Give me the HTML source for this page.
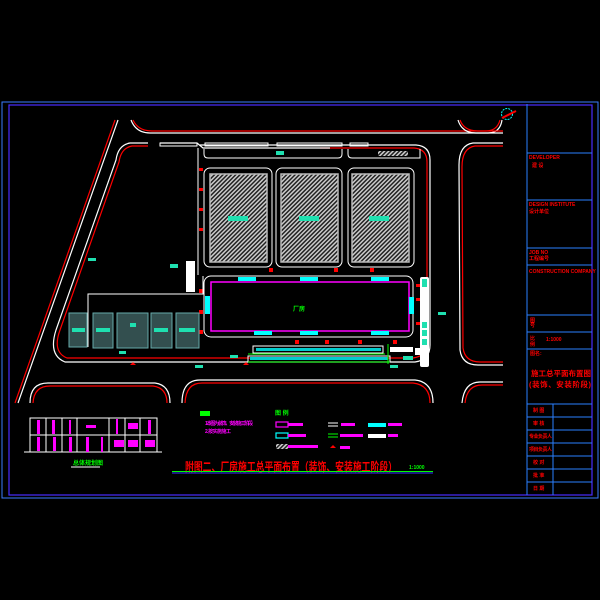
<!DOCTYPE html>
<html><head><meta charset="utf-8"><style>
html,body{margin:0;padding:0;background:#000;width:600px;height:600px;overflow:hidden}
svg{display:block}
text{font-family:"Liberation Sans","Noto Sans CJK SC",sans-serif;font-weight:bold}
</style></head><body>
<svg width="600" height="600" viewBox="0 0 600 600" xmlns="http://www.w3.org/2000/svg">
<defs>
<pattern id="h" width="3" height="3" patternUnits="userSpaceOnUse" patternTransform="rotate(45)">
<rect width="3" height="3" fill="#222"/><rect width="1.5" height="3" fill="#ccc"/></pattern>
</defs>
<rect width="600" height="600" fill="#000"/>
<rect x="2" y="102" width="596" height="396" fill="none" stroke="#3a7bff" stroke-width="1"/>
<rect x="9" y="105" width="583" height="390" fill="none" stroke="#4a2cff" stroke-width="1.2"/>
<!-- title block -->
<g stroke="#2a7fff" stroke-width="1" fill="none">
<line x1="527" y1="104" x2="527" y2="495"/>
<line x1="527" y1="153" x2="592" y2="153"/><line x1="527" y1="200" x2="592" y2="200"/>
<line x1="527" y1="248" x2="592" y2="248"/><line x1="527" y1="265" x2="592" y2="265"/>
<line x1="527" y1="315" x2="592" y2="315"/><line x1="527" y1="332" x2="592" y2="332"/>
<line x1="527" y1="349" x2="592" y2="349"/><line x1="527" y1="404" x2="592" y2="404"/>
<line x1="527" y1="417" x2="592" y2="417"/><line x1="527" y1="430" x2="592" y2="430"/>
<line x1="527" y1="443" x2="592" y2="443"/><line x1="527" y1="456" x2="592" y2="456"/>
<line x1="527" y1="469" x2="592" y2="469"/><line x1="527" y1="482" x2="592" y2="482"/>
<line x1="553" y1="404" x2="553" y2="495"/>
</g>
<g fill="#f00" font-size="5">
<text x="529" y="159">DEVELOPER</text><text x="532" y="167">建 设</text>
<text x="529" y="206">DESIGN INSTITUTE</text><text x="529" y="213">设计单位</text>
<text x="529" y="254">JOB NO</text><text x="529" y="260">工程编号</text>
<text x="529" y="273">CONSTRUCTION COMPANY</text>
<text x="530" y="322">图</text><text x="530" y="327">号</text>
<text x="530" y="340">比</text><text x="546" y="341">1:1000</text><text x="530" y="346">例</text>
<text x="530" y="355">图名:</text>
<text x="531" y="376" font-size="7.5" textLength="60">施工总平面布置图</text>
<text x="529" y="387" font-size="7.5" textLength="62">(装饰、安装阶段)</text>
<text x="533" y="412">制 图</text><text x="533" y="425">审 核</text>
<text x="529" y="438" textLength="23">专业负责人</text><text x="529" y="451" textLength="23">项目负责人</text>
<text x="533" y="464">校 对</text><text x="533" y="477">批 准</text><text x="533" y="490">日 期</text>
</g>
<!-- north -->
<circle cx="507" cy="114" r="5.5" fill="none" stroke="#0ff" stroke-width="1" stroke-dasharray="2,1"/>
<line x1="502" y1="118" x2="516" y2="111" stroke="#f00" stroke-width="2"/>
<!-- roads -->
<g fill="none" stroke-width="1.2">
<path d="M131 120 Q136 133 150 133 L488 133 Q500 133 502 120" stroke="#fff"/>
<path d="M133 120 Q138 131 152 131 L486 131 Q497 131 500 120" stroke="#f00"/>
<path d="M458 120 Q462 133 476 133 L503 133" stroke="#fff"/>
<path d="M460 120 Q464 131 478 131 L503 131" stroke="#f00"/>
<path d="M118 120 L18 403" stroke="#fff"/><path d="M115 120 L15 403" stroke="#f00"/>
<path d="M148 143 L130 143 Q118 145 116 160 L56 330 Q48 355 65 362 L415 362 Q430 360 430 345 L430 160 Q430 146 416 145 L200 145" stroke="#fff"/>
<path d="M148 146 L132 146 Q121 148 119 162 L60 330 Q52 352 67 358 L413 358 Q427 356 427 343 L427 162 Q427 149 414 148 L320 148" stroke="#f00"/>
<path d="M503 143 L473 143 Q459 145 459 165 L460 350 Q462 365 478 365 L503 365" stroke="#fff"/>
<path d="M503 146 L475 146 Q462 148 462 167 L463 348 Q465 362 480 362 L503 362" stroke="#f00"/>
<path d="M30 403 Q30 383 48 383 L155 383 Q170 385 170 403" stroke="#fff"/>
<path d="M33 403 Q34 386 50 386 L153 386 Q167 388 167 403" stroke="#f00"/>
<path d="M182 403 Q182 380 200 380 L415 380 Q433 382 433 403" stroke="#fff"/>
<path d="M185 403 Q186 383 202 383 L413 383 Q430 385 430 403" stroke="#f00"/>
<path d="M462 403 Q464 382 480 382 L503 382" stroke="#fff"/>
<path d="M465 403 Q467 385 482 385 L503 385" stroke="#f00"/>
<path d="M160 143 L197 143 L203 148 L330 148" stroke="#fff"/>
</g>
<!-- top small strips -->
<g fill="none" stroke="#fff" stroke-width="1">
<rect x="160" y="143" width="37" height="3"/><rect x="205" y="143" width="63" height="3"/>
<rect x="277" y="143" width="65" height="3"/><rect x="350" y="143" width="18" height="3"/>
<path d="M204 149 L204 154 Q204 158 208 158 L338 158 Q342 158 342 154 L342 149"/>
<path d="M348 149 L348 154 Q348 158 352 158 L420 158 L420 149"/>
<line x1="198" y1="148" x2="198" y2="275"/>
</g>
<rect x="378" y="151" width="30" height="5" fill="url(#h)"/>
<!-- warehouses -->
<g fill="none" stroke="#fff" stroke-width="1">
<rect x="204" y="168" width="68" height="99" rx="6"/><rect x="276" y="168" width="66" height="99" rx="6"/><rect x="348" y="168" width="66" height="99" rx="6"/>
</g>
<rect x="210" y="174" width="57" height="88" fill="url(#h)" stroke="#bbb" stroke-width="1.5"/>
<rect x="281" y="174" width="57" height="88" fill="url(#h)" stroke="#bbb" stroke-width="1.5"/>
<rect x="352" y="174" width="57" height="88" fill="url(#h)" stroke="#bbb" stroke-width="1.5"/>
<g fill="#1fe0b0"><rect x="228" y="216" width="20" height="5"/><rect x="299" y="216" width="20" height="5"/><rect x="369" y="216" width="20" height="5"/>
<rect x="276" y="151" width="8" height="4"/><rect x="170" y="264" width="8" height="4"/><rect x="88" y="258" width="8" height="3"/></g>
<rect x="186" y="261" width="9" height="31" fill="#fff"/>
<!-- red markers -->
<g fill="#f00"><rect x="199" y="168" width="4" height="3"/><rect x="199" y="188" width="4" height="3"/><rect x="199" y="208" width="4" height="3"/><rect x="199" y="228" width="4" height="3"/>
<rect x="269" y="268" width="4" height="4"/><rect x="334" y="268" width="4" height="4"/><rect x="370" y="268" width="4" height="4"/>
<rect x="199" y="289" width="4" height="4"/><rect x="199" y="310" width="4" height="4"/><rect x="199" y="330" width="4" height="4"/>
<rect x="295" y="340" width="4" height="4"/><rect x="325" y="340" width="4" height="4"/><rect x="358" y="340" width="4" height="4"/><rect x="393" y="340" width="4" height="4"/>
<rect x="416" y="284" width="4" height="3"/><rect x="416" y="298" width="4" height="3"/><rect x="416" y="322" width="4" height="3"/>
<path d="M130 365 l3 -3 l3 3z M243 365 l3 -3 l3 3z"/></g>
<!-- main factory -->
<rect x="204" y="276" width="209" height="61" rx="7" fill="none" stroke="#fff"/>
<rect x="211" y="282" width="198" height="49" fill="none" stroke="#f0f" stroke-width="1.5"/>
<g fill="#0ff"><rect x="238" y="277" width="18" height="4"/><rect x="300" y="277" width="18" height="4"/><rect x="371" y="277" width="18" height="4"/>
<rect x="254" y="331" width="18" height="4"/><rect x="300" y="331" width="18" height="4"/><rect x="371" y="331" width="18" height="4"/>
<rect x="205" y="296" width="5" height="18"/><rect x="409" y="297" width="5" height="17"/></g>
<text x="293" y="311" fill="#0f0" font-size="6">厂房</text>
<!-- right strip -->
<rect x="420" y="277" width="9" height="90" fill="#fff" rx="2"/>
<g fill="#1fe0b0"><rect x="422" y="279" width="5" height="8"/><rect x="422" y="322" width="5" height="6"/><rect x="422" y="330" width="5" height="6"/><rect x="422" y="339" width="5" height="6"/><rect x="438" y="312" width="8" height="3"/></g>
<rect x="390" y="347" width="23" height="5" fill="#fff"/><rect x="415" y="348" width="10" height="7" fill="#fff"/>
<!-- long buildings -->
<rect x="253" y="346" width="130" height="7" fill="none" stroke="#fff"/>
<rect x="248" y="356" width="142" height="6" fill="none" stroke="#fff"/>
<g fill="#0cc"><rect x="256" y="348" width="125" height="3"/><rect x="250" y="357" width="138" height="3"/></g>
<path d="M248 354 L385 354 M248 362 L390 362 M388 344 L388 364" stroke="#0f0" fill="none"/>
<!-- small buildings -->
<path d="M88 347 L88 294 L203 294 L203 276" fill="none" stroke="#fff"/>
<g fill="#334f4f" stroke="#6aa" stroke-width="1">
<rect x="69" y="313" width="18" height="34"/><rect x="93" y="313" width="20" height="35"/><rect x="117" y="313" width="31" height="35"/><rect x="151" y="313" width="21" height="35"/><rect x="176" y="313" width="23" height="35"/></g>
<g fill="#1fe0b0"><rect x="72" y="328" width="13" height="4"/><rect x="96" y="328" width="14" height="4"/><rect x="130" y="323" width="6" height="4"/><rect x="154" y="328" width="14" height="4"/><rect x="179" y="328" width="16" height="4"/>
<rect x="119" y="351" width="7" height="3"/><rect x="195" y="365" width="8" height="3"/><rect x="172" y="342" width="0" height="0"/><rect x="390" y="365" width="8" height="3"/><rect x="403" y="356" width="10" height="4"/><rect x="230" y="355" width="8" height="3"/></g>
<!-- bottom table -->
<g stroke="#fff" fill="none" stroke-width="1">
<rect x="30" y="418" width="127" height="34"/><line x1="30" y1="435" x2="157" y2="435"/>
<line x1="46" y1="418" x2="46" y2="452"/><line x1="62" y1="418" x2="62" y2="452"/><line x1="77" y1="418" x2="77" y2="452"/><line x1="109" y1="418" x2="109" y2="452"/><line x1="125" y1="418" x2="125" y2="452"/><line x1="140" y1="418" x2="140" y2="452"/>
<line x1="24" y1="452" x2="162" y2="452"/><line x1="71" y1="467" x2="100" y2="467"/>
</g>
<g fill="#f0f"><rect x="37" y="420" width="3" height="14"/><rect x="52" y="420" width="3" height="14"/><rect x="69" y="420" width="2" height="14"/><rect x="86" y="425" width="10" height="3"/><rect x="116" y="419" width="2" height="15"/><rect x="128" y="423" width="10" height="6"/><rect x="148" y="420" width="3" height="14"/>
<rect x="37" y="437" width="3" height="14"/><rect x="53" y="437" width="3" height="14"/><rect x="69" y="437" width="3" height="15"/><rect x="86" y="437" width="3" height="15"/><rect x="101" y="437" width="2" height="15"/><rect x="114" y="440" width="10" height="7"/><rect x="128" y="440" width="10" height="7"/><rect x="145" y="440" width="10" height="7"/></g>
<text x="73" y="465" fill="#0f0" font-size="6">总体规划图</text>
<!-- legend -->
<rect x="200" y="411" width="10" height="5" fill="#0f0"/>
<text x="205" y="425" fill="#f0f" font-size="5" textLength="48">1.本图为装饰、安装施工阶段</text>
<text x="205" y="433" fill="#f0f" font-size="5" textLength="26">2.按实施施工</text>
<text x="275" y="415" fill="#0f0" font-size="6">图 例</text>
<rect x="276" y="422" width="12" height="5" fill="none" stroke="#f0f" stroke-width="1.2"/><rect x="288" y="423" width="15" height="3" fill="#f0f"/>
<rect x="276" y="433" width="12" height="5" fill="none" stroke="#0ff" stroke-width="1.2"/><rect x="288" y="434" width="18" height="3" fill="#f0f"/>
<rect x="276" y="444" width="12" height="5" fill="url(#h)"/><rect x="288" y="445" width="30" height="3" fill="#f0f"/>
<path d="M328 423 H338 M328 426 H338" stroke="#fff"/><rect x="341" y="423" width="14" height="3" fill="#f0f"/>
<path d="M328 434 H338 M328 437 H338" stroke="#0f0"/><rect x="340" y="434" width="23" height="3" fill="#f0f"/>
<path d="M330 448 l3 -3 l3 3z" fill="#f00"/><rect x="340" y="446" width="10" height="3" fill="#f0f"/>
<rect x="368" y="423" width="18" height="4" fill="#0ff"/><rect x="388" y="423" width="14" height="3" fill="#f0f"/>
<rect x="368" y="434" width="18" height="4" fill="#fff"/><rect x="388" y="434" width="10" height="3" fill="#f0f"/>
<!-- title -->
<text x="185" y="471" fill="#f00" font-size="12" textLength="212" lengthAdjust="spacingAndGlyphs">附图二、厂房施工总平面布置（装饰、安装施工阶段）</text>
<text x="409" y="469" fill="#0f0" font-size="5">1:1000</text>
<line x1="172" y1="471.5" x2="433" y2="471.5" stroke="#0f0"/>
<line x1="172" y1="473" x2="433" y2="473" stroke="#33f"/>
</svg>
</body></html>
